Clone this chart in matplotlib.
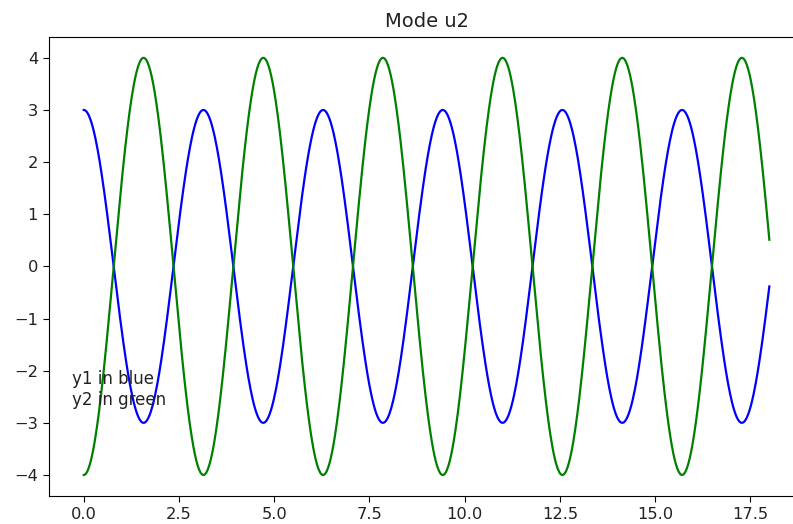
import numpy as np
import matplotlib
matplotlib.use("Agg")
import matplotlib.pyplot as plt

# Normal mode u2: both masses oscillate at the same frequency, opposite phase
T_START = 0.0
T_END = 18.0
N_POINTS = 1000
OMEGA = 2.0
AMP_Y1 = 3.0
AMP_Y2 = -4.0

t = np.linspace(T_START, T_END, N_POINTS)
y1 = AMP_Y1 * np.cos(OMEGA * t)
y2 = AMP_Y2 * np.cos(OMEGA * t)

plt.rcParams["font.size"] = 11.7
plt.rcParams["xtick.major.size"] = 4.1
plt.rcParams["ytick.major.size"] = 4.1
plt.rcParams["xtick.major.pad"] = 4.1
plt.rcParams["ytick.major.pad"] = 4.1
plt.rcParams["text.color"] = "#222222"
plt.rcParams["xtick.labelcolor"] = "#222222"
plt.rcParams["ytick.labelcolor"] = "#222222"

fig = plt.figure(figsize=(7.93, 5.24), dpi=100)
ax = fig.add_axes([0.0624, 0.0538, 0.951, 0.8756])

ax.plot(t, y1, color=(0, 0, 1), lw=1.6)
ax.plot(t, y2, color=(0, 0.5, 0), lw=1.6)
ax.text(-0.3, -2.66, "y1 in blue\ny2 in green", fontsize=12)
ax.set_title("Mode u2", pad=7)

fig.savefig("out.png", dpi=100)
